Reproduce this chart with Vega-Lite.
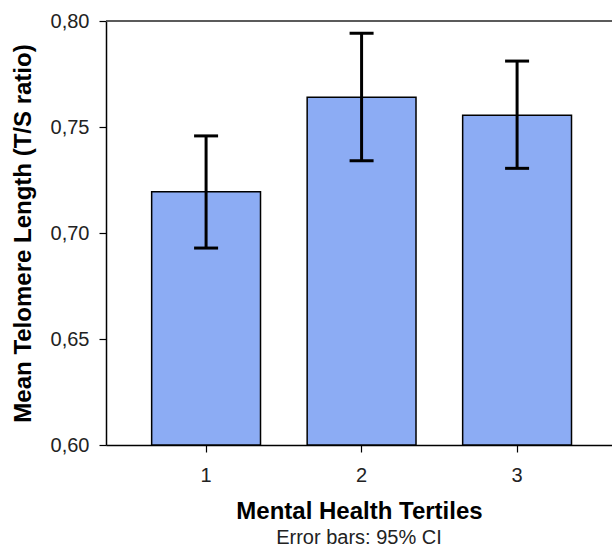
{
  "$schema": "https://vega.github.io/schema/vega-lite/v6.json",
  "autosize": {"type": "none"},
  "padding": {"left": 106, "top": 21, "right": 0, "bottom": 103},
  "width": 506,
  "height": 424,
  "background": "white",
  "config": {
    "font": "Liberation Sans",
    "view": {"stroke": null},
    "axis": {"grid": false, "domainColor": "black", "domainWidth": 1.5, "tickColor": "black", "tickWidth": 1.2, "tickSize": 7, "labelColor": "#222222", "labelFontSize": 20, "titleColor": "black", "titleFontSize": 24, "titleFontWeight": "bold"}
  },
  "title": {"text": "Error bars: 95% CI", "orient": "bottom", "anchor": "middle", "fontSize": 20, "fontWeight": "normal", "color": "#222222", "offset": 5},
  "data": {"values": [
    {"tertile": "1", "mean": 0.7195, "lo": 0.6929, "hi": 0.7458},
    {"tertile": "2", "mean": 0.764, "lo": 0.7341, "hi": 0.7942},
    {"tertile": "3", "mean": 0.7555, "lo": 0.7305, "hi": 0.7811}
  ]},
  "encoding": {
    "x": {"field": "tertile", "type": "nominal", "sort": null,
      "scale": {"type": "band", "paddingInner": 0.3, "paddingOuter": 0.277, "align": 0.53},
      "axis": {"title": "Mental Health Tertiles", "labelAngle": 0, "labelPadding": 13, "titlePadding": 14}}
  },
  "layer": [
    {
      "mark": {"type": "bar", "fill": "#8cacf4", "stroke": "black", "strokeWidth": 1.5},
      "encoding": {
        "y": {"field": "mean", "type": "quantitative",
          "scale": {"domain": [0.6, 0.8], "zero": false, "nice": false},
          "axis": {"title": "Mean Telomere Length (T/S ratio)", "values": [0.6, 0.65, 0.7, 0.75, 0.8],
            "labelExpr": "replace(format(datum.value, '.2f'), '.', ',')", "labelPadding": 10, "titlePadding": 15}},
        "y2": {"datum": 0.6}
      }
    },
    {
      "mark": {"type": "rule", "color": "black", "strokeWidth": 3},
      "encoding": {
        "y": {"field": "lo", "type": "quantitative"},
        "y2": {"field": "hi"}
      }
    },
    {
      "mark": {"type": "tick", "color": "black", "size": 24, "thickness": 3, "opacity": 1},
      "encoding": {"y": {"field": "lo", "type": "quantitative"}}
    },
    {
      "mark": {"type": "tick", "color": "black", "size": 24, "thickness": 3, "opacity": 1},
      "encoding": {"y": {"field": "hi", "type": "quantitative"}}
    },
    {
      "mark": {"type": "rule", "color": "#444444", "strokeWidth": 1.2},
      "encoding": {"x": null, "y": {"datum": 0.8}}
    }
  ]
}
